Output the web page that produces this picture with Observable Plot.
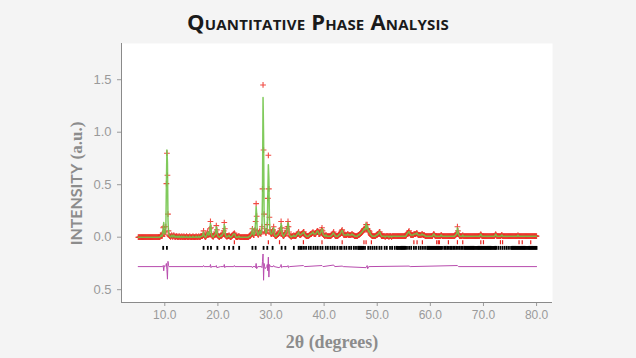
<!DOCTYPE html>
<html>
<head>
<meta charset="utf-8">
<script src="https://cdn.jsdelivr.net/npm/d3@7"></script>
<script src="https://cdn.jsdelivr.net/npm/@observablehq/plot@0.6"></script>
<style>
  html, body { margin: 0; padding: 0; background: #f4f4f4; }
  #title {
    width: 636px; height: 43px; line-height: 43px; text-align: center;
    font-family: "Open Sans", Lato, sans-serif; font-weight: bold; font-size: 22px;
    font-variant: small-caps; color: #1a1a1a; letter-spacing: 0.2px;
  }
</style>
</head>
<body>
<div id="title">Quantitative Phase Analysis</div>
<div id="chart"></div>
<script>
// ---- axis ticks ----
const xTicks = [10, 20, 30, 40, 50, 60, 70, 80];
const yTicks = [-0.5, 0, 0.5, 1.0, 1.5];

// ---- observed pattern: step scan from 5.0° in 0.1° steps (intensity in hundredths a.u.) ----
const startAngle = 5.0;
const stepAngle = 0.1;
const obsHundredths = [
  0,0,0,0,0,0,0,0,0,0,        // 5
  0,0,0,0,0,0,0,0,0,0,        // 6
  0,0,0,0,0,0,0,0,0,0,        // 7
  0,0,0,0,0,0,0,0,0,0,        // 8
  0,0,1,2,1,1,4,9,10,5,       // 9
  3,5,10,51,80,59,22,6,2,1,   // 10
  1,0,1,2,1,0,1,2,1,0,        // 11
  0,1,1,0,0,1,0,0,1,0,        // 12
  0,0,1,0,0,0,1,0,0,0,        // 13
  0,1,0,0,0,0,0,1,0,0,        // 14
  0,0,0,1,0,0,0,0,0,1,        // 15
  0,0,0,0,1,0,0,0,1,1,        // 16
  1,1,3,6,2,1,0,0,1,2,        // 17
  4,5,3,2,3,8,15,9,3,1,       // 18
  1,0,1,2,2,3,5,11,7,3,       // 19
  1,1,0,0,1,1,2,1,2,3,        // 20
  4,6,14,8,3,1,1,0,1,1,       // 21
  1,2,1,0,0,0,1,1,2,3,        // 22
  3,4,3,1,0,0,0,0,0,1,        // 23
  1,0,0,0,0,0,0,0,0,0,        // 24
  0,0,0,0,0,0,0,0,0,1,        // 25
  1,1,2,3,4,8,5,2,2,4,        // 26
  7,15,32,20,6,3,2,3,5,6,     // 27
  4,3,5,10,46,145,83,22,8,5,  // 28
  4,4,6,12,37,78,46,19,7,4,   // 29
  3,3,4,6,7,10,5,2,1,1,       // 30
  1,2,2,3,3,4,5,6,8,15,       // 31
  9,4,2,1,1,2,3,4,4,6,        // 32
  8,10,15,10,5,2,1,1,0,1,     // 33
  1,1,1,2,1,1,1,1,2,3,        // 34
  3,4,5,3,2,2,2,3,3,4,        // 35
  4,5,5,3,2,2,1,1,1,1,        // 36
  1,1,2,2,3,3,3,4,4,5,        // 37
  4,3,3,3,3,4,5,6,6,5,        // 38
  3,3,3,4,5,7,9,6,3,2,        // 39
  2,1,1,2,2,1,1,1,1,1,        // 40
  1,1,1,1,2,2,3,4,5,3,        // 41
  2,1,1,1,1,1,1,2,2,3,        // 42
  3,4,5,6,7,5,3,2,2,2,        // 43
  2,2,2,2,3,3,2,2,2,2,        // 44
  2,2,3,3,2,2,2,1,1,1,        // 45
  1,1,1,1,2,2,2,3,3,4,        // 46
  4,5,5,6,7,8,8,7,9,12,       // 47
  8,12,8,6,5,6,5,3,2,2,       // 48
  1,1,1,1,1,1,1,1,2,2,        // 49
  2,3,3,4,5,5,3,2,1,1,        // 50
  1,1,1,1,1,0,1,1,1,1,        // 51
  1,1,0,1,1,1,1,0,1,1,        // 52
  1,1,1,1,1,1,1,1,1,1,        // 53
  1,1,1,1,1,1,1,1,1,1,        // 54
  1,1,1,1,1,2,3,4,4,5,        // 55
  6,4,3,2,2,2,2,2,2,3,        // 56
  3,3,3,3,4,4,3,2,2,2,        // 57
  2,2,2,2,3,3,2,2,2,2,        // 58
  1,1,1,1,1,1,1,1,1,1,        // 59
  1,1,1,1,1,2,3,3,2,1,        // 60
  1,1,1,1,1,1,1,1,1,1,        // 61
  2,2,1,1,1,1,1,1,1,1,        // 62
  1,1,1,1,1,1,1,1,1,1,        // 63
  1,1,1,1,1,1,1,2,2,3,        // 64
  4,10,6,3,2,1,1,1,1,1,       // 65
  1,2,1,1,1,1,1,1,1,1,        // 66
  1,1,1,1,1,1,1,1,1,1,        // 67
  1,1,1,1,1,1,1,1,1,1,        // 68
  1,1,1,1,2,3,2,1,1,1,        // 69
  1,1,1,1,1,1,1,1,1,1,        // 70
  1,1,1,1,1,1,1,1,1,1,        // 71
  1,1,2,3,2,1,1,1,1,1,        // 72
  1,1,1,1,2,2,1,1,1,1,        // 73
  1,1,1,1,1,1,1,1,1,1,        // 74
  1,1,1,1,1,1,1,1,1,1,        // 75
  1,1,1,1,1,2,1,1,1,1,        // 76
  1,1,1,1,1,1,1,1,1,1,        // 77
  1,1,1,1,1,1,1,1,1,1,        // 78
  1,1,1,1,1,1,1,1,1,1,        // 79
  1                            // 80
];

// ---- difference (observed − calculated), a.u. ----
const diffPairs = [
  [5.0, 0], [9.6, 0], [9.7, 0.01], [9.8, -0.04], [9.9, 0.01], [10.0, 0], [10.2, 0.01],
  [10.3, 0.03], [10.4, -0.03], [10.5, -0.12], [10.6, 0.05], [10.7, 0.01], [10.8, 0],
  [17.2, 0], [17.3, 0.01], [17.4, 0], [18.5, 0], [18.6, 0.02], [18.7, -0.01], [18.8, 0],
  [19.6, 0], [19.7, 0.01], [19.8, -0.01], [20.5, 0], [21.1, 0], [21.2, 0.02], [21.3, -0.01],
  [21.4, 0], [23.0, 0], [23.1, 0.01], [23.2, 0], [26.4, 0], [26.5, -0.01], [26.6, 0],
  [27.0, 0], [27.1, -0.01], [27.2, 0.03], [27.3, -0.02], [27.5, 0], [28.2, 0],
  [28.3, -0.01], [28.4, 0.05], [28.5, 0.12], [28.6, -0.13], [28.7, 0.03], [28.8, 0],
  [28.9, -0.02], [29.2, 0], [29.3, 0.02], [29.4, -0.04], [29.5, 0.09], [29.6, -0.10],
  [29.7, 0.02], [29.9, 0], [30.4, 0], [30.5, 0.01], [30.6, 0], [31.5, -0.01], [31.8, 0],
  [31.9, 0.02], [32.0, -0.01], [32.2, 0], [33.1, 0], [33.2, 0.01], [33.3, -0.01],
  [33.5, 0], [36.1, 0.01], [36.3, 0], [39.6, 0.01], [39.8, 0], [41.8, 0.015], [42.0, 0],
  [43.4, 0.005], [43.6, 0], [47.9, -0.01], [48.1, 0.01], [48.2, -0.02], [48.4, 0],
  [56.0, 0.005], [56.2, 0], [65.1, 0.01], [65.3, 0], [80.0, 0]
];
const diffOffset = -0.28;

// ---- reflection markers ----
const phase1Ticks = [23.1, 29.5, 31.6, 36.1, 39.6, 43.4, 47.5, 47.9, 48.9, 56.9, 57.5,
  58.5, 61.2, 61.5, 61.7, 63.4, 65.1, 66.1, 69.5, 70.0, 73.2, 73.6, 76.7, 77.3, 78.9];
const phase2Ticks = [9.7, 10.4, 17.3, 18.1, 18.7, 19.9, 21.2, 22.1, 22.9, 24.0, 26.5, 27.1,
  28.6, 29.3, 30.3, 32.0, 32.7, 34.3, 35.2, 35.5, 35.8, 36.2, 36.6, 37.1, 37.5, 38.0, 38.4,
  38.8, 39.3, 39.7, 40.3, 40.7, 41.2, 41.6, 42.0, 42.5, 43.0, 43.3, 43.8, 44.2, 44.7, 45.1,
  45.6, 46.0, 46.4, 46.6, 46.8, 47.0, 47.2, 47.4, 47.7, 48.3, 48.7, 49.1, 49.5, 49.9, 50.4,
  50.8, 51.4, 51.8, 52.4, 52.8, 53.3, 53.7, 53.9, 54.1, 54.3, 54.5, 54.7, 54.9, 55.1, 55.3,
  55.6, 56.0, 56.4, 56.9, 57.3, 57.8, 58.2, 58.6, 59.0, 59.4, 59.6, 59.8, 60.0, 60.2, 60.4,
  60.6, 60.8, 61.0, 61.2, 61.4, 61.6, 61.8, 62.0, 62.2, 62.6, 62.9, 63.2, 63.5, 63.8, 64.0,
  64.3, 64.6, 64.9, 65.2, 65.5, 65.8, 66.1, 66.4, 66.6, 66.8, 67.0, 67.2, 67.4, 67.6, 67.8,
  68.0, 68.2, 68.4, 68.6, 68.8, 69.0, 69.2, 69.4, 69.6, 69.8, 70.0, 70.2, 70.4, 70.6, 70.8,
  71.0, 71.2, 71.4, 71.6, 71.8, 72.0, 72.2, 72.4, 72.8, 73.2, 73.6, 74.0, 74.4, 74.8, 75.2,
  75.4, 75.6, 75.8, 76.0, 76.2, 76.4, 76.6, 76.8, 77.0, 77.2, 77.4, 77.6, 77.8, 78.0, 78.2,
  78.4, 78.6, 78.8, 79.0, 79.2, 79.4, 79.6, 79.8, 80.0];

// ---- derived tables ----
const obs = obsHundredths.map((v, i) => ({x: +(startAngle + i * stepAngle).toFixed(1), y: v / 100}));
const diffMap = new Map(diffPairs.map(([x, d]) => [x.toFixed(1), d]));
const calc = obs.map(d => ({x: d.x, y: d.y - (diffMap.get(d.x.toFixed(1)) ?? 0)}));
const diff = diffPairs.map(([x, d]) => ({x, y: d + diffOffset}));

const xDomain = [1.85, 83.0];
const yDomain = [-0.622, 1.845];

const chart = Plot.plot({
  width: 636,
  height: 315,
  marginTop: 0,
  marginLeft: 121,
  marginRight: 84,
  marginBottom: 56,
  style: {background: "transparent", color: "#9a9a9a", fontFamily: "'Liberation Sans', Arial, sans-serif", fontSize: "12px"},
  x: {domain: xDomain},
  y: {domain: yDomain},
  marks: [
    Plot.frame({fill: "white", stroke: "none"}),
    Plot.axisX(xTicks, {tickSize: 4, tickPadding: 4, tickFormat: d3.format(".1f"), label: null, fontSize: 12}),
    Plot.axisY(yTicks, {tickSize: 4, tickPadding: 6, tickFormat: d => Math.abs(d).toFixed(1), label: null, fontSize: 13}),
    Plot.ruleX([xDomain[0]], {stroke: "#8a8a8a"}),
    Plot.ruleY([yDomain[0]], {stroke: "#8a8a8a"}),
    Plot.ruleX(phase1Ticks, {y1: -0.033, y2: -0.072, stroke: "#e8231f", strokeWidth: 1.2}),
    Plot.ruleX(phase2Ticks, {y1: -0.088, y2: -0.125, stroke: "#000", strokeWidth: 1.8}),
    Plot.line(diff, {x: "x", y: "y", stroke: "#b84cae", strokeWidth: 1}),
    Plot.dot(obs, {x: "x", y: "y", symbol: "plus", r: 2.0, stroke: "#ee2a22", strokeWidth: 1.1, strokeOpacity: 0.85}),
    Plot.line(calc, {x: "x", y: "y", stroke: "#72c44a", strokeWidth: 1.5, strokeOpacity: 0.9})
  ]
});
document.getElementById("chart").appendChild(chart);

const svg = d3.select(chart);
svg.append("text")
  .attr("x", 332).attr("y", 305)
  .attr("text-anchor", "middle")
  .attr("font-family", "'Liberation Serif', 'DejaVu Serif', serif")
  .attr("font-weight", "bold").attr("font-size", 18)
  .attr("fill", "#8c8c8c")
  .text("2θ (degrees)");

const yl = svg.append("text")
  .attr("transform", "translate(82,140.5) rotate(-90)")
  .attr("text-anchor", "middle")
  .attr("font-weight", "bold")
  .attr("fill", "#8c8c8c");
yl.append("tspan").attr("font-family", "Lato, 'Open Sans', sans-serif").attr("font-size", 16).text("INTENSITY");
yl.append("tspan").attr("font-family", "'Liberation Serif', 'DejaVu Serif', serif").attr("font-size", 17).text(" (a.u.)");
</script>
</body>
</html>
